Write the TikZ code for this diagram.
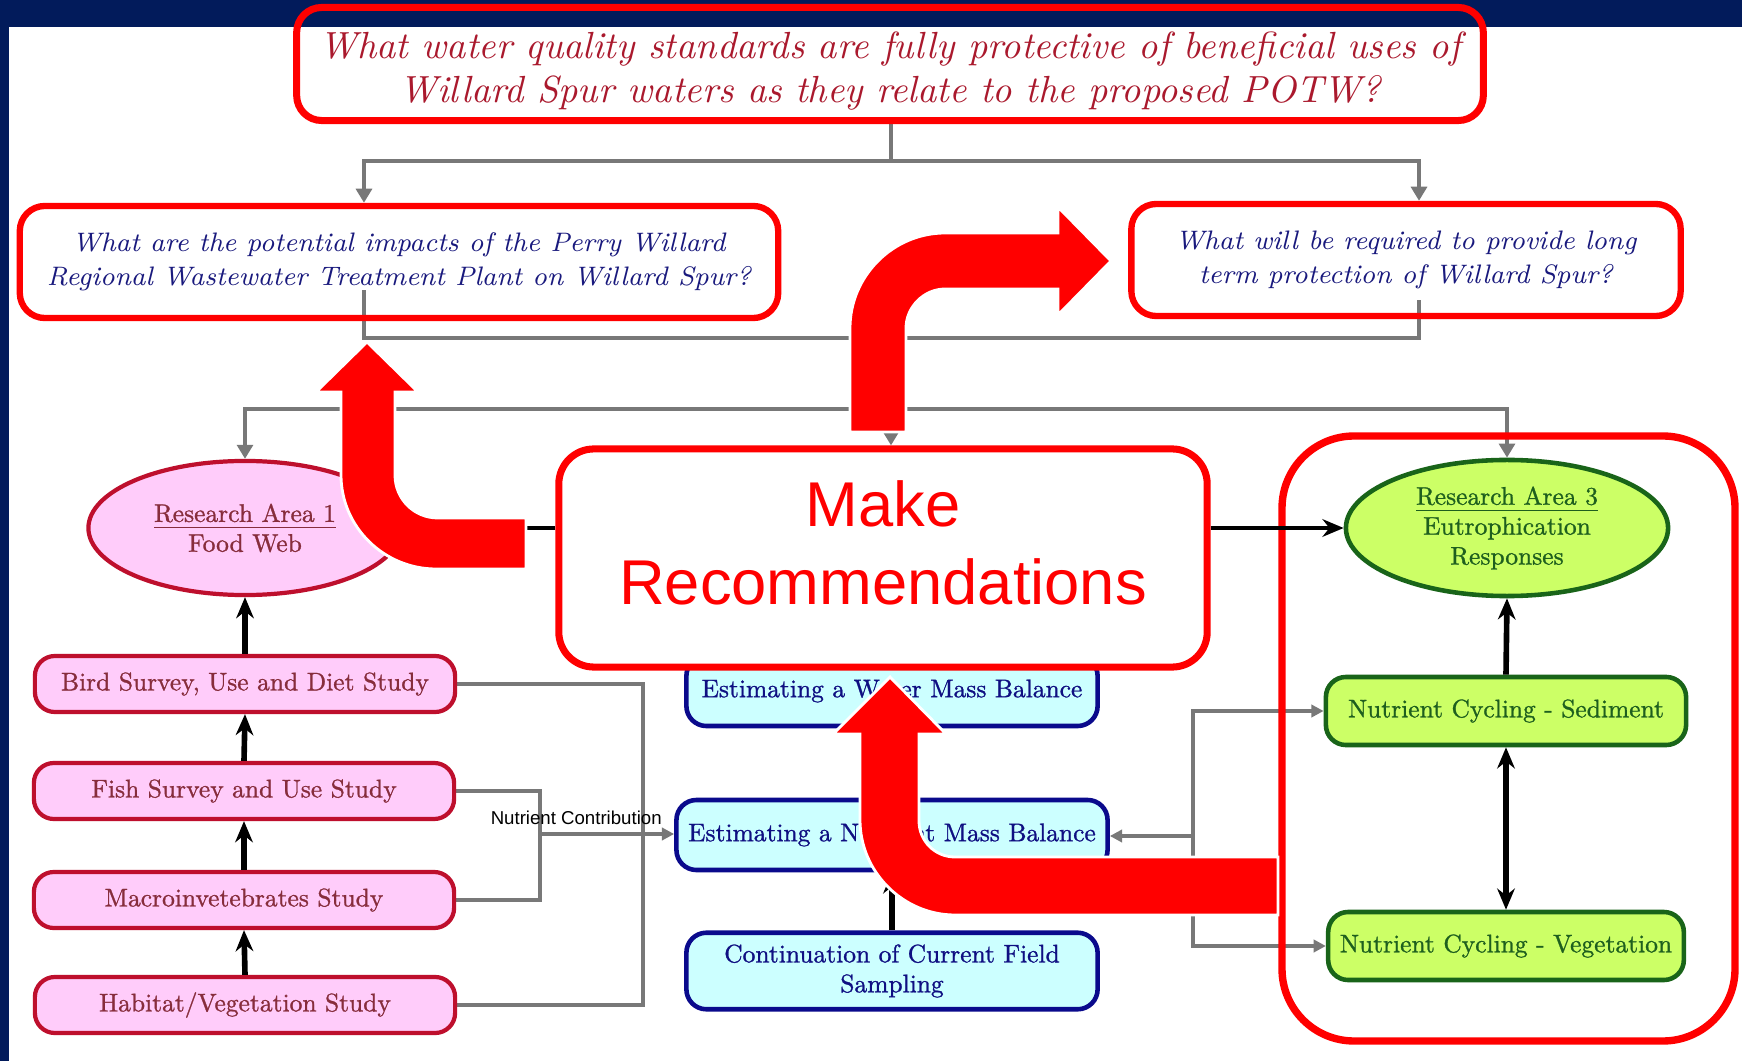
\documentclass[tikz,border=0pt]{standalone}
\usepackage{fontspec}
\newfontfamily\arialfont{Liberation Sans}
\newfontfamily\boxserif[Extension=.otf,FakeBold=1]{lmroman10-regular}
\usetikzlibrary{arrows.meta,shapes.geometric,backgrounds}

\definecolor{navyband}{RGB}{2,27,91}
\definecolor{qred}{RGB}{170,25,45}
\definecolor{qblue}{RGB}{25,25,125}
\definecolor{flowgray}{RGB}{120,120,120}
\definecolor{pinkfill}{RGB}{255,204,250}
\definecolor{pinkline}{RGB}{190,15,45}
\definecolor{pinktext}{RGB}{135,45,60}
\definecolor{bluefill}{RGB}{204,255,255}
\definecolor{blueline}{RGB}{10,10,140}
\definecolor{bluetext}{RGB}{15,15,130}
\definecolor{greenfill}{RGB}{204,255,102}
\definecolor{greenline}{RGB}{25,100,25}
\definecolor{greentext}{RGB}{30,95,30}

\newcommand{\boxfont}{\boxserif\fontsize{7.25}{8.5}\selectfont}

\begin{document}
\begin{tikzpicture}[x=0.01cm,y=-0.01cm,>={Stealth[length=6pt,width=5pt]},
	qbox/.style={draw=red,line width=1.8pt,rounded corners=0.25cm,align=center,text=qblue,font=\itshape\fontsize{7.6}{9.6}\selectfont},
	pinkbox/.style={draw=pinkline,fill=pinkfill,line width=1.2pt,rounded corners=0.2cm,minimum width=4.2cm,minimum height=0.56cm,text=pinktext,font=\boxfont},
	pinkoval/.style={shape=ellipse,draw=pinkline,fill=pinkfill,line width=1.2pt,inner sep=0pt,minimum width=3.13cm,minimum height=1.34cm,text=pinktext,font=\boxfont,align=center},
	bluebox/.style={draw=blueline,fill=bluefill,line width=1.3pt,rounded corners=0.2cm,minimum width=4.11cm,minimum height=0.7cm,text=bluetext,font=\boxfont,align=center},
	greenbox/.style={draw=greenline,fill=greenfill,line width=1.3pt,rounded corners=0.2cm,minimum width=3.6cm,minimum height=0.68cm,text=greentext,font=\boxfont},
	greenoval/.style={shape=ellipse,draw=greenline,fill=greenfill,line width=1.3pt,inner sep=0pt,minimum width=3.22cm,minimum height=1.36cm,text=greentext,font=\boxfont,align=center},
	makebox/.style={draw=red,fill=white,line width=2pt,rounded corners=0.35cm,minimum width=6.48cm,minimum height=2.18cm},
	maketext/.style={text=red,align=center,font=\arialfont\fontsize{18}{22}\selectfont},
	grayline/.style={draw=flowgray,line width=1.3pt},
	grayarrow/.style={grayline,-{Triangle[length=4pt,width=4.5pt]}},
	thingray/.style={draw=flowgray,line width=0.9pt},
	thinarrow/.style={thingray,-{Triangle[length=3.5pt,width=3.5pt]}},
	blackline/.style={line width=1.6pt},
	bigarrow/.style={fill=red,draw=white,line width=0.8pt}]
	\useasboundingbox (0,0) rectangle (1742,1061);
	\begin{scope}[on background layer]
		\fill[white] (0,0) rectangle (1742,1061);
		\fill[navyband] (0,0) rectangle (1742,27);
		\fill[navyband] (0,0) rectangle (9,1061);
	\end{scope}

	\node[qbox,line width=2pt,minimum width=11.86cm,minimum height=1.13cm] (top) at (890,64) {};
	\node[text=qred,align=center,font=\itshape\fontsize{10.75}{12.6}\selectfont] (toptext) at (890,71) {What water quality standards are fully protective of beneficial uses of\\Willard Spur waters as they relate to the proposed POTW?};
	\node[qbox,minimum width=7.58cm,minimum height=1.12cm] (q1) at (399,262) {What are the potential impacts of the Perry Willard\\Regional Wastewater Treatment Plant on Willard Spur?};
	\node[qbox,minimum width=5.49cm,minimum height=1.12cm] (q2) at (1406,260) {What will be required to provide long\\term protection of Willard Spur?};

	\node[pinkoval] (ra1) at (245,528) {\underline{Research Area 1}\\Food Web};
	\node[pinkbox] (bird) at (245,684) {Bird Survey, Use and Diet Study};
	\node[pinkbox] (fish) at (244,791) {Fish Survey and Use Study};
	\node[pinkbox] (macro) at (244,900) {Macroinvetebrates Study};
	\node[pinkbox] (habitat) at (245,1005) {Habitat/Vegetation Study};

	\node[bluebox] (wmb) at (892,691) {Estimating a Water Mass Balance};
	\node[bluebox,minimum width=4.23cm] (nmb) at (892,835) {Estimating a Nutrient Mass Balance};
	\node[bluebox,minimum height=0.68cm] (cont) at (892,971) {Continuation of Current Field\\Sampling};

	\node[greenoval] (ra3) at (1507,528) {\underline{Research Area 3}\\Eutrophication\\Responses};
	\node[greenbox] (sed) at (1506,711) {Nutrient Cycling - Sediment};
	\node[greenbox,minimum width=3.55cm] (veg) at (1506,946) {Nutrient Cycling - Vegetation};

	\node[makebox] (mr) at (883,558) {};
	\node[maketext] (mrtext) at ([yshift=0.15cm]mr.center) {Make\\Recommendations};

	\begin{scope}[on background layer]
		\coordinate (jt) at (891,161);
		\coordinate (jq) at (891,338);
		\coordinate (jm) at (891,409);
		\draw[grayline] (jt |- top.south) -- (jt);
		\draw[grayarrow] (jt) -| ([xshift=-0.35cm]q1.north);
		\draw[grayarrow] (jt) -| ([xshift=0.13cm]q2.north);
		\draw[grayline] ([xshift=-0.35cm,yshift=0.31cm]q1.south) |- (jq) -| ([xshift=0.13cm,yshift=0.19cm]q2.south);
		\draw[grayline] (jq) -- (jm);
		\draw[grayarrow] (jm) -| (ra1.north);
		\draw[grayarrow] (jm) -| (ra3.north);
		\draw[grayarrow] (jm) -- (jm |- mr.north);
		\coordinate (jf) at (540,834);
		\coordinate (jb) at (643,834);
		\coordinate (jr) at (1193,836);
		\draw[thingray] (bird.east) -| (jb) |- (habitat.east);
		\draw[thingray] (fish.east) -| (jf) |- (macro.east);
		\draw[thinarrow] (jf) -- (jf -| nmb.west) node[pos=0.27,above=-1.1pt,font=\arialfont\fontsize{5.3}{5.5}\selectfont] (nc) {Nutrient Contribution};
		\draw[thinarrow] (jr) -- (jr -| nmb.east);
		\draw[thinarrow] (jr) |- (sed.west);
		\draw[thinarrow] (jr) |- (veg.west);
	\end{scope}

	\draw[red,line width=2.1pt,rounded corners=0.72cm] (1282,436) rectangle (1735,1041);

	\draw[blackline,->] (bird.north) -- (ra1.south);
	\draw[blackline,->] (fish.north) -- (bird.south);
	\draw[blackline,->] (macro.north) -- (fish.south);
	\draw[blackline,->] (habitat.north) -- (macro.south);
	\draw[blackline,->] (cont.north) -- (nmb.south);
	\draw[blackline,->] (sed.north) -- (ra3.south);
	\draw[blackline,<->] (sed.south) -- (veg.north);
	\draw[blackline,line width=1.4pt,->] (mr.east |- ra3.west) -- (ra3.west);
	\draw[blackline,line width=1.4pt,->] (mr.west |- ra1.east) -- (ra1.east);

	\filldraw[bigarrow] (526,518) -- (438,518) .. controls (414,518) and (395,499) .. (395,475) -- (395,392) -- (418,392) -- (367,342) -- (316,392) -- (341,392) -- (341,475) .. controls (341,527) and (384,569) .. (436,569) -- (526,569) -- cycle;
	\filldraw[bigarrow] (850,432) -- (850,328) .. controls (850,276) and (893,233) .. (945,233) -- (1058,233) -- (1058,207) -- (1111,261) -- (1058,315) -- (1058,289) -- (945,289) .. controls (924,289) and (906,307) .. (906,328) -- (906,432) -- cycle;
	\filldraw[bigarrow] (1278,857) -- (955,857) .. controls (935,857) and (919,841) .. (919,821) -- (919,734) -- (946,734) -- (890,677) -- (833,734) -- (860,734) -- (860,820) .. controls (860,872) and (903,915) .. (955,915) -- (1278,915) -- cycle;
\end{tikzpicture}
\end{document}
